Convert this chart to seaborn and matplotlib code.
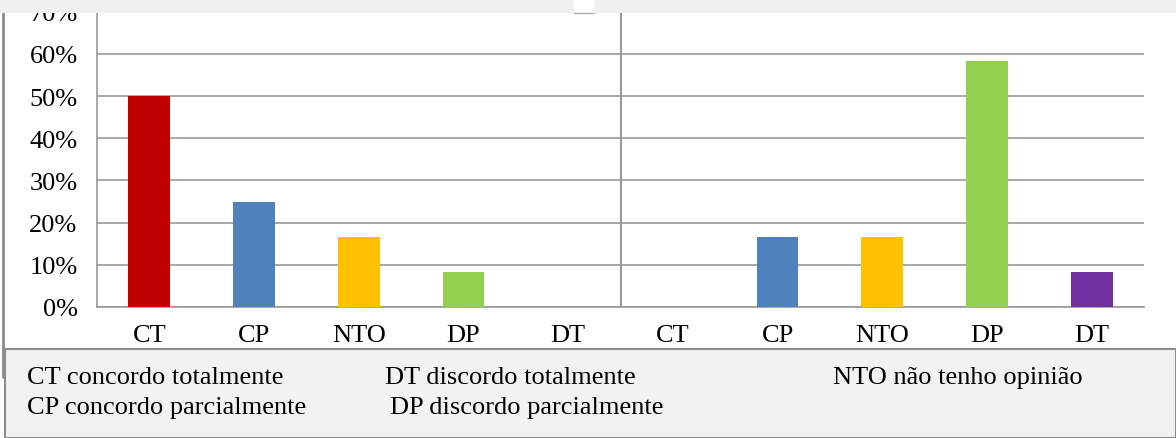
import matplotlib
matplotlib.use("Agg")
import matplotlib.pyplot as plt
import seaborn as sns
import pandas as pd
from matplotlib.patches import Rectangle
from matplotlib.ticker import PercentFormatter

categories = ["CT", "CP", "NTO", "DP", "DT", "CT", "CP", "NTO", "DP", "DT"]
values = [0.50, 0.25, 0.167, 0.083, 0.0, 0.0, 0.167, 0.167, 0.583, 0.083]
colors = ["#C00000", "#4F81BD", "#FFC000", "#92D050", "#7030A0",
          "#C00000", "#4F81BD", "#FFC000", "#92D050", "#7030A0"]
yticks = [0, 0.1, 0.2, 0.3, 0.4, 0.5, 0.6, 0.7]
legend_texts = [
    ("CT concordo totalmente", 27, 378),
    ("DT discordo totalmente", 385, 378),
    ("NTO não tenho opinião", 833, 378),
    ("CP concordo parcialmente", 27, 408),
    ("DP discordo parcialmente", 390, 408),
]

sns.set_theme(style="white")
plt.rcParams['font.family'] = ['Liberation Serif', 'DejaVu Serif']

W, H = 1176, 439
fig = plt.figure(figsize=(W / 100, H / 100), dpi=100)
fig.patch.set_facecolor("white")

ax = fig.add_axes([97 / W, 1 - 308 / H, (1144 - 97) / W, (308 - 12.6) / H])
df = pd.DataFrame({"pos": list(range(len(values))), "value": values})
sns.barplot(data=df, x="pos", y="value", hue="pos", palette=colors,
            legend=False, width=0.4, saturation=1, linewidth=0, ax=ax, zorder=3)

ax.set_xlim(-0.5, 9.5)
ax.set_ylim(0, 0.7)
ax.set_yticks(yticks)
ax.yaxis.set_major_formatter(PercentFormatter(1.0, decimals=0))
ax.set_xticks(range(len(categories)))
ax.set_xticklabels(categories)
ax.set_xticks([i - 0.5 for i in range(len(categories) + 1)], minor=True)
ax.tick_params(axis="x", which="major", length=0, pad=12, labelsize=19, labelcolor="#000000")
ax.tick_params(axis="x", which="minor", length=6, width=1.2, color="#999999", direction="out")
ax.tick_params(axis="y", length=8, width=1.2, color="#999999", pad=6, labelsize=19, labelcolor="#000000")
ax.set_xlabel("")
ax.set_ylabel("")
ax.grid(axis="y", color="#999999", linewidth=1.2, zorder=0)
ax.set_axisbelow(True)
for s in ["top", "right"]:
    ax.spines[s].set_visible(False)
for s in ["left", "bottom"]:
    ax.spines[s].set_color("#999999")
    ax.spines[s].set_linewidth(1.2)
ax.axvline(4.5, color="#999999", linewidth=1.5, zorder=2)

# outer frame line on the left
fig.add_artist(plt.Line2D([2.5 / W, 2.5 / W], [1 - 14 / H, 1 - 378 / H],
                          transform=fig.transFigure, color="#8c8c8c", linewidth=2))
# top gray strip
fig.add_artist(Rectangle((0, 1 - 14 / H), 1, 14 / H, transform=fig.transFigure,
                         facecolor="#f0f0f0", edgecolor="none", zorder=10))
fig.add_artist(Rectangle((574 / W, 1 - 14 / H), 20 / W, 14 / H, transform=fig.transFigure,
                         facecolor="white", edgecolor="none", zorder=11))
fig.add_artist(plt.Line2D([574 / W, 594 / W], [1 - 13.5 / H, 1 - 13.5 / H],
                          transform=fig.transFigure, color="#b0b0b0", linewidth=1, zorder=12))
# legend box
fig.add_artist(Rectangle((5 / W, 0), (W - 5) / W, (H - 350) / H, transform=fig.transFigure,
                         facecolor="#f2f2f2", edgecolor="#8c8c8c", linewidth=1.5, zorder=10))
for txt, x, y in legend_texts:
    fig.text(x / W, 1 - y / H, txt, fontsize=19, ha="left", va="center", zorder=12, color="#000000")

fig.savefig("out.png", dpi=100)
